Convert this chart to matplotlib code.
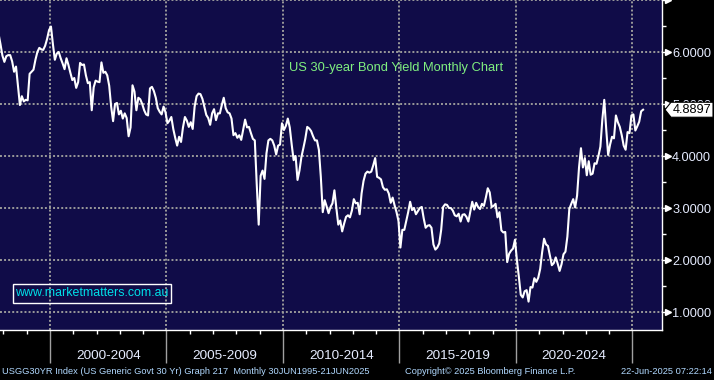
import matplotlib
matplotlib.use("Agg")
import matplotlib.pyplot as plt
import matplotlib.transforms as mtransforms
from matplotlib.patches import Polygon, Rectangle

# ---------------- data ----------------
start_year, start_month = 1997, 10
monthly_yield = [
    6.35, 6.15, 5.93,                                                    # 1997 Oct-Dec
    5.81, 5.92, 5.94, 5.94, 5.82, 5.62, 5.72, 5.35, 4.98, 5.15, 5.05, 5.08,  # 1998
    5.07, 5.58, 5.62, 5.66, 5.85, 6.00, 6.08, 6.05, 6.04, 6.12, 6.25, 6.42,  # 1999
    6.49, 6.15, 5.85, 5.97, 6.00, 5.88, 5.78, 5.67, 5.88, 5.75, 5.60, 5.46,  # 2000
    5.50, 5.31, 5.42, 5.79, 5.75, 5.76, 5.55, 5.40, 5.42, 4.88, 5.32, 5.45,  # 2001
    5.43, 5.42, 5.80, 5.60, 5.62, 5.55, 5.35, 4.95, 4.67, 5.00, 5.02, 4.80,  # 2002
    4.87, 4.72, 4.82, 4.73, 4.38, 4.55, 5.36, 5.24, 4.88, 5.12, 5.09, 5.00,  # 2003
    4.88, 4.80, 4.78, 5.30, 5.33, 5.25, 5.12, 4.92, 4.85, 4.80, 4.95, 4.84,  # 2004
    4.63, 4.68, 4.75, 4.52, 4.35, 4.20, 4.37, 4.27, 4.55, 4.75, 4.68, 4.56,  # 2005
    4.65, 4.52, 4.95, 5.15, 5.20, 5.19, 5.10, 4.95, 4.79, 4.73, 4.60, 4.82,  # 2006
    4.90, 4.69, 4.82, 4.82, 4.98, 5.12, 4.92, 4.84, 4.82, 4.72, 4.40, 4.44,  # 2007
    4.35, 4.40, 4.31, 4.50, 4.70, 4.55, 4.56, 4.44, 4.33, 4.30, 3.45, 2.68,  # 2008
    3.62, 3.72, 3.56, 4.05, 4.30, 4.33, 4.30, 4.20, 4.03, 4.20, 4.22, 4.63,  # 2009
    4.50, 4.58, 4.72, 4.55, 4.22, 3.92, 4.00, 3.54, 3.72, 3.98, 4.15, 4.33,  # 2010
    4.56, 4.53, 4.48, 4.38, 4.30, 4.30, 4.12, 3.60, 2.92, 3.15, 3.03, 2.90,  # 2011
    3.02, 3.09, 3.34, 3.00, 2.68, 2.76, 2.55, 2.70, 2.83, 2.86, 2.82, 2.95,  # 2012
    3.17, 3.09, 3.10, 2.88, 3.28, 3.52, 3.66, 3.70, 3.68, 3.70, 3.82, 3.96,  # 2013
    3.60, 3.58, 3.55, 3.40, 3.35, 3.36, 3.28, 3.10, 3.20, 3.05, 2.92, 2.75,  # 2014
    2.24, 2.58, 2.58, 2.75, 2.92, 3.12, 2.96, 3.00, 2.88, 2.94, 3.00, 3.02,  # 2015
    2.80, 2.62, 2.66, 2.67, 2.62, 2.30, 2.20, 2.24, 2.32, 2.58, 3.02, 3.07,  # 2016
    3.06, 3.00, 3.00, 2.95, 2.86, 2.84, 2.89, 2.74, 2.87, 2.88, 2.83, 2.74,  # 2017
    2.93, 3.12, 2.97, 3.10, 3.02, 2.98, 3.08, 3.04, 3.20, 3.38, 3.30, 3.02,  # 2018
    3.04, 3.08, 2.82, 2.92, 2.57, 2.53, 2.54, 1.96, 2.12, 2.18, 2.22, 2.39,  # 2019
    2.00, 1.68, 1.33, 1.28, 1.40, 1.42, 1.20, 1.48, 1.47, 1.65, 1.58, 1.66,  # 2020
    1.83, 2.15, 2.41, 2.30, 2.27, 2.08, 1.90, 1.94, 2.05, 1.93, 1.79, 1.92,  # 2021
    2.11, 2.16, 2.45, 2.98, 3.08, 3.17, 3.01, 3.24, 3.78, 4.15, 3.78, 3.96,  # 2022
    3.63, 3.90, 3.64, 3.66, 3.86, 3.85, 4.00, 4.18, 4.70, 5.08, 4.52, 4.02,  # 2023
    4.22, 4.37, 4.34, 4.78, 4.65, 4.56, 4.40, 4.20, 4.12, 4.46, 4.44, 4.78,  # 2024
    4.80, 4.49, 4.57, 4.66, 4.86, 4.8897,                                # 2025 Jan-Jun
]
last_value = 4.8897
period_starts = [2000, 2005, 2010, 2015, 2020]
period_labels = ["2000-2004", "2005-2009", "2010-2014", "2015-2019", "2020-2024"]
grid_years = [2000, 2005, 2010, 2015, 2020, 2025]
minor_years = list(range(1998, 2026))
y_major = [1, 2, 3, 4, 5, 6, 7]
y_labels = ["1.0000", "2.0000", "3.0000", "4.0000", "5.0000", "6.0000", ""]
y_minor = [1.5, 2.5, 3.5, 4.5, 5.5, 6.5]
title_text = "US 30-year Bond Yield Monthly Chart"
watermark = "www.marketmatters.com.au"
footer_left = "USGG30YR Index (US Generic Govt 30 Yr) Graph 217  Monthly 30JUN1995-21JUN2025"
footer_mid = "Copyright\u00a9 2025 Bloomberg Finance L.P."
footer_right = "22-Jun-2025 07:22:14"

t = [start_year + (start_month - 1 + i + 0.5) / 12.0 for i in range(len(monthly_yield))]

# ---------------- figure ----------------
W, H = 714, 380
plt.rcParams['font.family'] = ['Liberation Sans', 'DejaVu Sans']
fig = plt.figure(figsize=(W / 100, H / 100), dpi=100, facecolor='black')
ax = fig.add_axes([0, 1 - 330 / H, 662 / W, 330 / H])
navy = '#100c48'
ax.set_facecolor(navy)
ax.set_xlim(1997.854, 2026.27)
ax.set_ylim(0.654, 7.0)

ax.plot(t, monthly_yield, color='white', lw=1.5, zorder=3, solid_joinstyle='round')

for s in ['left', 'top']:
    ax.spines[s].set_visible(False)
ax.spines['right'].set_color('white')
ax.spines['right'].set_linewidth(1.0)
ax.spines['bottom'].set_color('white')
ax.spines['bottom'].set_linewidth(1.0)

# y axis on right
ax.yaxis.tick_right()
ax.set_yticks(y_major)
ax.set_yticklabels(y_labels)
ax.set_yticks(y_minor, minor=True)
ax.tick_params(axis='y', which='major', length=3, width=1, color='white',
               pad=4.3, labelcolor='#e6ecff', labelsize=9.2)
ax.tick_params(axis='y', which='minor', length=2.6, width=1, color='white')
tri_tr = mtransforms.blended_transform_factory(ax.transAxes, ax.transData) + \
    mtransforms.ScaledTranslation(5.5 / 100, 0, fig.dpi_scale_trans)
ax.plot([1] * len(y_major), y_major, ls='none', marker='>', ms=4.5, color='white',
        mec='white', transform=tri_tr, clip_on=False, zorder=5)

# x axis
ax.set_xticks(grid_years)
ax.set_xticklabels([''] * len(grid_years))
ax.set_xticks(minor_years, minor=True)
ax.tick_params(axis='x', which='major', length=24, width=1, color='#a0a0a0', direction='out')
ax.tick_params(axis='x', which='minor', length=3, width=1, color='white', direction='out')

ax.grid(which='major', axis='both', color='#9a9a9a', linestyle=(0, (1, 1.1)), linewidth=1.4)
ax.set_axisbelow(True)

lab_tr = mtransforms.blended_transform_factory(ax.transData, fig.transFigure)
for s, lab in zip(period_starts, period_labels):
    ax.text(s + 2.5, 1 - 356 / H, lab, transform=lab_tr, ha='center', va='center',
            color='#e6ecff', fontsize=9.7, clip_on=False)

# title
fig.text(289 / W, 1 - 68 / H, title_text, color='#80f080', fontsize=9.3, ha='left', va='center')

# watermark
fig.add_artist(Rectangle((13 / W, 1 - 303 / H), 158 / W, 19 / H, transform=fig.transFigure,
                         facecolor='none', edgecolor='white', lw=1.0, zorder=4))
fig.text(15 / W, 1 - 293.5 / H, watermark, color='#00e0e8', fontsize=8.9, ha='left', va='center',
         zorder=5)

# footer
fcol = '#b0d8ff'
fig.text(2 / W, 1 - 372 / H, footer_left, color=fcol, fontsize=6.7, ha='left', va='center')
fig.text(405 / W, 1 - 372 / H, footer_mid, color=fcol, fontsize=6.7, ha='left', va='center')
fig.text(712 / W, 1 - 372 / H, footer_right, color=fcol, fontsize=6.7, ha='right', va='center')

# last value tag (drawn over the partly hidden 5.0000 label, as in the reference)
yd = ax.transData.transform((2020, last_value))[1]
x0 = ax.transAxes.transform((1, 0))[0]
verts = [(x0 + 3, yd), (x0 + 9, yd + 7.5), (W - 1, yd + 7.5), (W - 1, yd - 7.5), (x0 + 9, yd - 7.5)]
fig.add_artist(Polygon(verts, closed=True, facecolor='white', edgecolor='black', lw=0.8,
                       transform=mtransforms.IdentityTransform(), zorder=6))
fig.text((x0 + 11) / W, yd / H, f"{last_value:.4f}", color='black', fontsize=9.2,
         ha='left', va='center', zorder=7)

fig.savefig('out.png', dpi=100, facecolor='black')
